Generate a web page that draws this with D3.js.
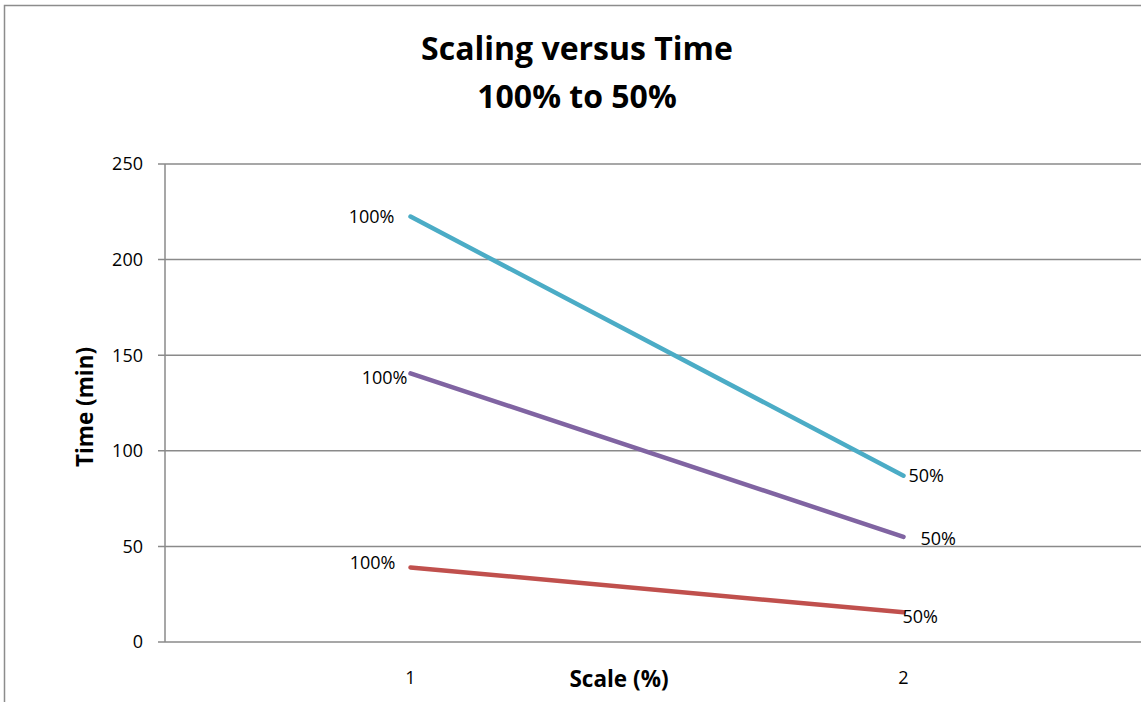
<!DOCTYPE html>
<html>
<head>
<meta charset="utf-8">
<script src="https://cdn.jsdelivr.net/npm/d3@7"></script>
<style>
  html, body { margin: 0; padding: 0; background: #fff; overflow: hidden; }
  svg { display: block; }
  text { font-family: "Open Sans", "Liberation Sans", sans-serif; }
</style>
</head>
<body>
<svg id="chart" width="1141" height="702"></svg>
<script>
const categories = ["1", "2"];
const yTicks = [0, 50, 100, 150, 200, 250];
const seriesNames = ["A", "B", "C"];
const seriesValues = [
  [222.5, 87],
  [140.5, 55],
  [39, 15.5]
];
const seriesColors = ["#4BACC6", "#8064A2", "#C0504D"];
const pointLabels = ["100%", "50%"];
const titleLines = ["Scaling versus Time", "100% to 50%"];
const xTitle = "Scale (%)";
const yTitle = "Time (min)";

(function () {
const svg = d3.select("#chart");
const W = 1141, H = 702;
const pLeft = 164, pRight = 1150, pTop = 164, pBottom = 642;
const tickFont = 18;

// outer frame
svg.append("rect").attr("x", 4.5).attr("y", 5.5).attr("width", 1200).attr("height", 800)
  .attr("fill", "none").attr("stroke", "#8c8c8c").attr("stroke-width", 1.5);

const x = d3.scalePoint().domain(categories).range([pLeft, pRight]).padding(0.5);
const y = d3.scaleLinear().domain([0, 250]).range([pBottom, pTop]);

// gridlines
svg.append("g").selectAll("line").data(yTicks).join("line")
  .attr("x1", pLeft - 6).attr("x2", W + 5)
  .attr("y1", d => y(d)).attr("y2", d => y(d))
  .attr("stroke", "#8a8a8a").attr("stroke-width", 1.5);

// y axis line
svg.append("line").attr("x1", pLeft + 1).attr("x2", pLeft + 1).attr("y1", pTop).attr("y2", pBottom)
  .attr("stroke", "#8a8a8a").attr("stroke-width", 1.5);

// y tick labels
svg.append("g").selectAll("text").data(yTicks).join("text")
  .attr("x", pLeft - 21).attr("y", d => y(d)).attr("dy", "0.35em")
  .attr("text-anchor", "end").attr("font-size", tickFont).attr("fill", "#000")
  .text(d => d);

// x tick labels
svg.append("g").selectAll("text").data(categories).join("text")
  .attr("x", d => x(d)).attr("y", 684)
  .attr("text-anchor", "middle").attr("font-size", tickFont).attr("fill", "#000")
  .text(d => d);

// lines
const line = d3.line().x((d, i) => x(categories[i])).y(d => y(d));
svg.append("g").selectAll("path").data(seriesValues).join("path")
  .attr("d", d => line(d)).attr("fill", "none")
  .attr("stroke", (d, i) => seriesColors[i]).attr("stroke-width", 4.5)
  .attr("stroke-linecap", "round");

// data labels
const startOffsets = [[-16, 0], [-3, 4], [-15, -5]];
const endOffsets = [[5, 0], [17, 2], [-1, 4]];
seriesValues.forEach((vals, i) => {
  svg.append("text")
    .attr("x", x(categories[0]) + startOffsets[i][0])
    .attr("y", y(vals[0]) + startOffsets[i][1]).attr("dy", "0.35em")
    .attr("text-anchor", "end").attr("font-size", tickFont).attr("fill", "#000")
    .text(pointLabels[0]);
  svg.append("text")
    .attr("x", x(categories[1]) + endOffsets[i][0])
    .attr("y", y(vals[1]) + endOffsets[i][1]).attr("dy", "0.35em")
    .attr("text-anchor", "start").attr("font-size", tickFont).attr("fill", "#000")
    .text(pointLabels[1]);
});

// titles
svg.append("g").selectAll("text").data(titleLines).join("text")
  .attr("x", 577).attr("y", (d, i) => 60 + i * 48)
  .attr("text-anchor", "middle").attr("font-size", 32).attr("font-weight", "bold")
  .attr("font-family", "Lato, 'Open Sans', sans-serif").attr("fill", "#000")
  .text(d => d);

svg.append("text").attr("x", 619).attr("y", 687)
  .attr("text-anchor", "middle").attr("font-size", 22.5).attr("font-weight", "bold")
  .attr("font-family", "Lato, 'Open Sans', sans-serif").text(xTitle);

svg.append("text").attr("transform", "translate(93,407) rotate(-90)")
  .attr("text-anchor", "middle").attr("font-size", 22.5).attr("font-weight", "bold")
  .attr("font-family", "Lato, 'Open Sans', sans-serif").text(yTitle);
})();
</script>
</body>
</html>
